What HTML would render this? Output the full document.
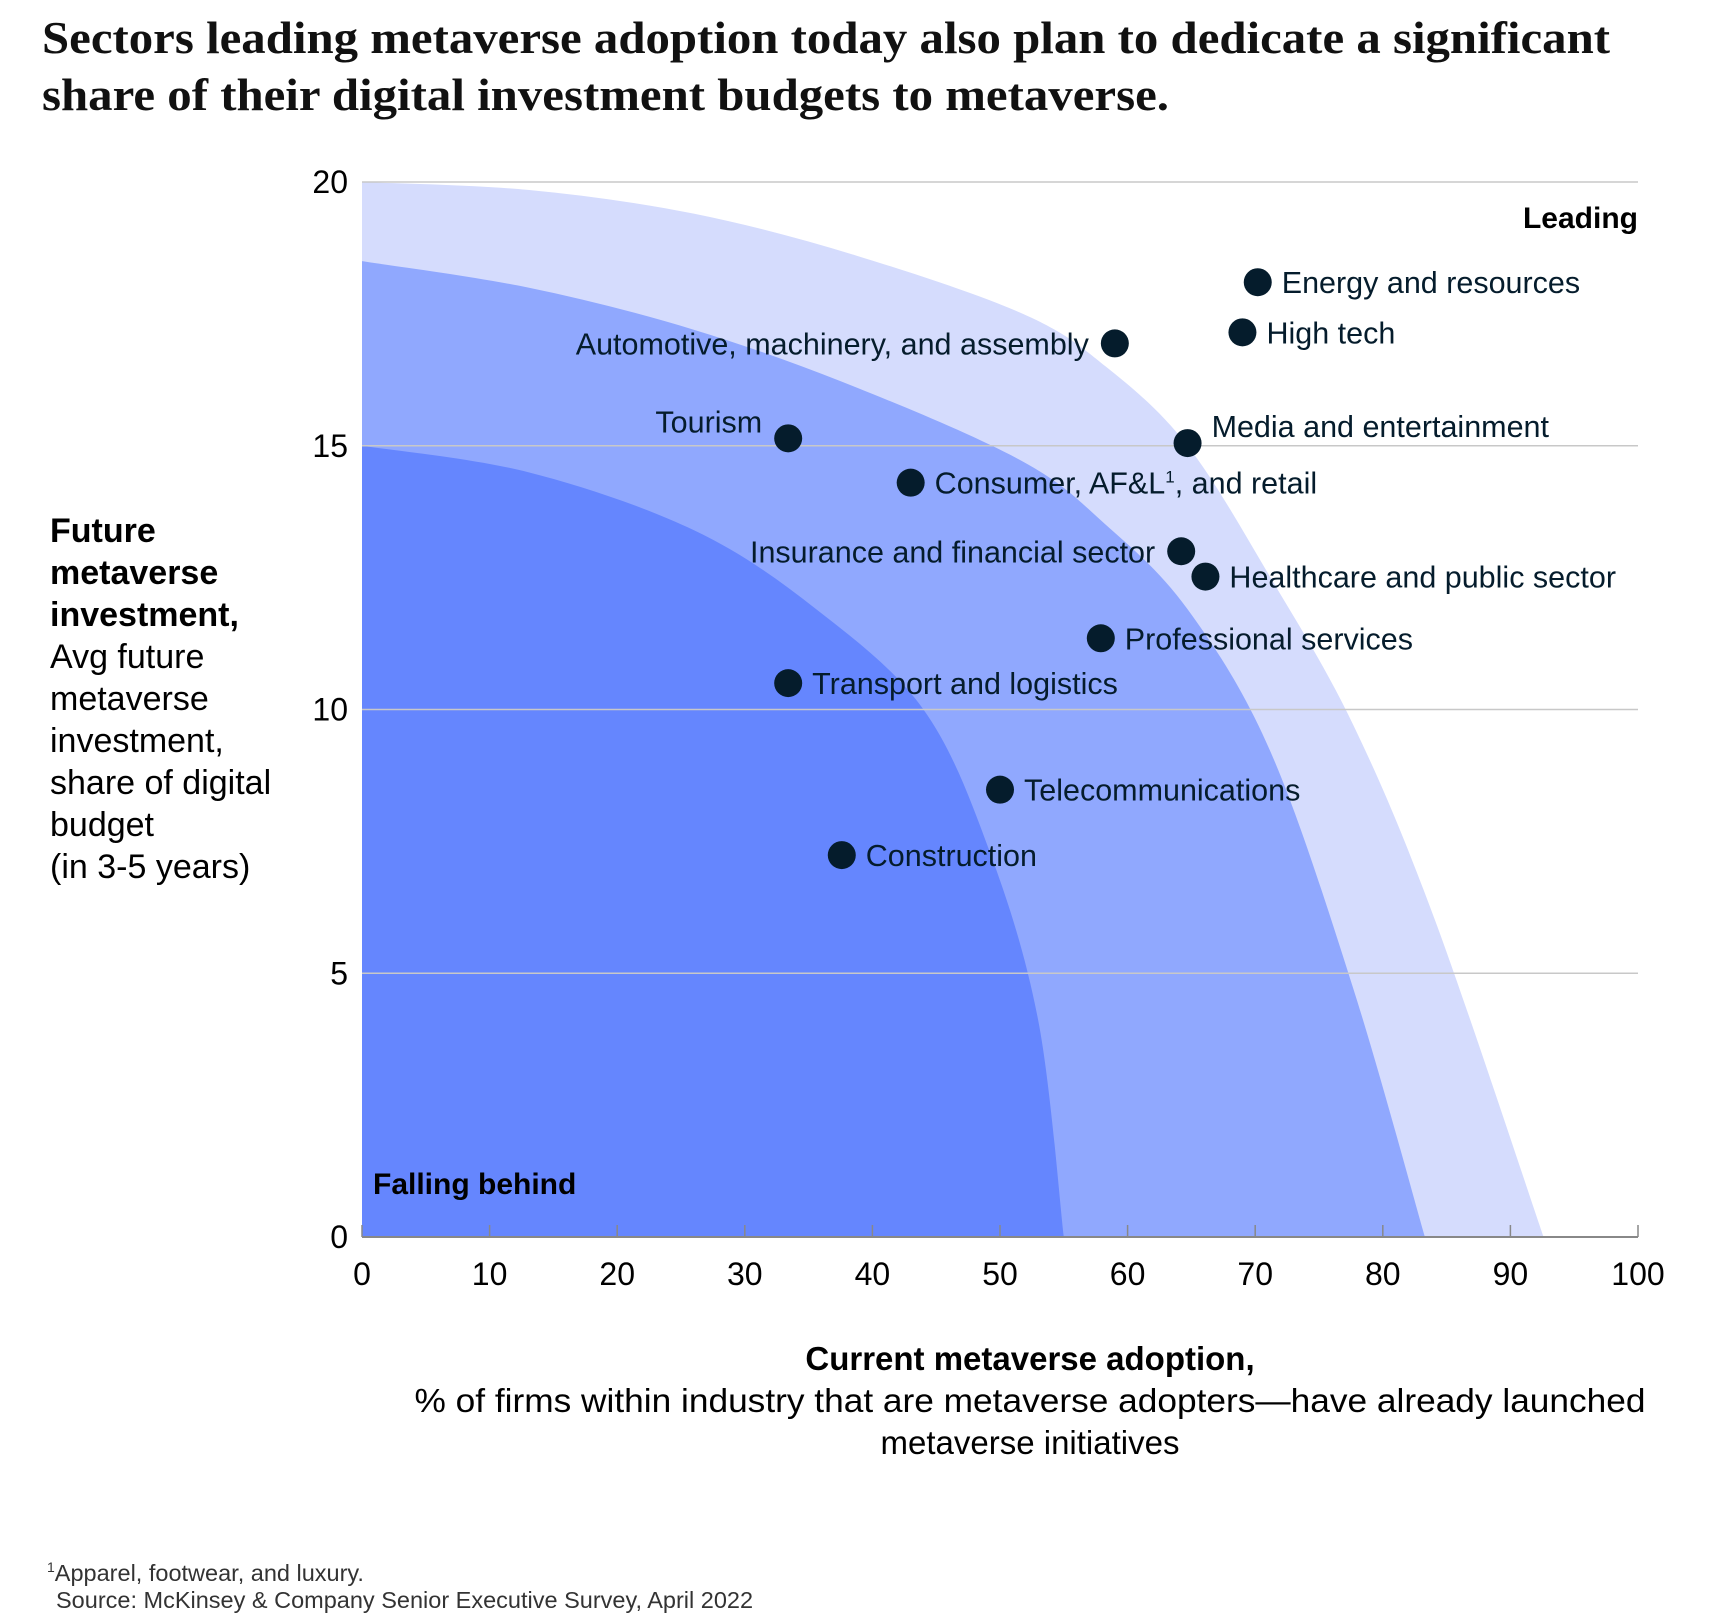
<!DOCTYPE html>
<html><head><meta charset="utf-8"><style>
html,body{margin:0;padding:0;background:#fff;}
svg{display:block;font-family:"Liberation Sans",sans-serif;}
</style></head><body>
<svg id="chart" width="1734" height="1620" viewBox="0 0 1734 1620" xmlns="http://www.w3.org/2000/svg">
<g font-family="Liberation Serif, serif" font-weight="bold" font-size="45" fill="#111">
<text x="42" y="53" textLength="1568" lengthAdjust="spacingAndGlyphs">Sectors leading metaverse adoption today also plan to dedicate a significant</text>
<text x="42" y="110" textLength="1127" lengthAdjust="spacingAndGlyphs">share of their digital investment budgets to metaverse.</text>
</g>
<g id="bands"></g>
<g id="grid"></g>
<g id="axes"></g>
<g id="points"></g>
<text x="1638" y="228" text-anchor="end" font-weight="bold" font-size="30" fill="#000">Leading</text>
<text x="373" y="1194" font-weight="bold" font-size="30" fill="#000">Falling behind</text>
<g font-size="34" fill="#000">
<text x="50" y="542" font-weight="bold">Future</text>
<text x="50" y="584" font-weight="bold">metaverse</text>
<text x="50" y="626" font-weight="bold">investment,</text>
<text x="50" y="668">Avg future</text>
<text x="50" y="710">metaverse</text>
<text x="50" y="752">investment,</text>
<text x="50" y="794">share of digital</text>
<text x="50" y="836">budget</text>
<text x="50" y="878">(in 3-5 years)</text>
</g>
<g font-size="33" fill="#000" text-anchor="middle">
<text x="1030" y="1370" font-weight="bold">Current metaverse adoption,</text>
<text x="1030" y="1412" textLength="1231" lengthAdjust="spacingAndGlyphs">% of firms within industry that are metaverse adopters—have already launched</text>
<text x="1030" y="1454">metaverse initiatives</text>
</g>
<g font-size="23.5" fill="#333">
<text x="47" y="1581"><tspan font-size="14" dy="-9">1</tspan><tspan dy="9">Apparel, footwear, and luxury.</tspan></text>
<text x="56" y="1608">Source: McKinsey &amp; Company Senior Executive Survey, April 2022</text>
</g>
</svg>
<script>
const sectors = ["Energy and resources","High tech","Automotive, machinery, and assembly","Media and entertainment","Tourism","Consumer, AF&L¹, and retail","Insurance and financial sector","Healthcare and public sector","Professional services","Transport and logistics","Telecommunications","Construction"];
const adoption = [70.2,69.0,59.0,64.7,33.4,43.0,64.2,66.1,57.9,33.4,50.0,37.6];
const investment = [18.1,17.15,16.94,15.05,15.14,14.3,13.0,12.52,11.35,10.5,8.48,7.24];
const labelSide = ["r","r","l","r","l","r","l","r","r","r","r","r"];
const xTicks = [0,10,20,30,40,50,60,70,80,90,100];
const yTicks = [0,5,10,15,20];
const outerX = [0,13,26,38.8,51.8,58.3,64.7,71.2,77.7,84.1,92.6];
const outerY = [20,19.85,19.4,18.6,17.5,16.5,15,12.5,9.7,6,0];
const middleX = [0,13,26,38.8,51.8,58.3,64.7,71.2,77.7,83.3];
const middleY = [18.5,18,17.2,16.1,14.7,13.5,11.9,9.2,4.7,0];
const innerX = [0,13,26,35.6,44,49.2,53,55];
const innerY = [15,14.5,13.4,11.9,10,7.3,4.1,0];

const X0=362, X1=1638, Y0=1237, Y1=182;
const sx = v => X0 + (X1-X0)*v/100;
const sy = v => Y0 - (Y0-Y1)*v/20;
const NS="http://www.w3.org/2000/svg";
function mk(tag, parent){ const e=document.createElementNS(NS,tag); parent.appendChild(e); return e; }

function bandPath(xs, ys){
  const p = xs.map((x,i)=>[sx(x), sy(ys[i])]);
  let d = `M${sx(0)},${sy(0)} L${p[0][0]},${p[0][1]}`;
  for(let i=0;i<p.length-1;i++){
    const a=p[Math.max(i-1,0)], b=p[i], c=p[i+1], e=p[Math.min(i+2,p.length-1)];
    const c1=[b[0]+(c[0]-a[0])/6, b[1]+(c[1]-a[1])/6];
    const c2=[c[0]-(e[0]-b[0])/6, c[1]-(e[1]-b[1])/6];
    d += ` C${c1[0]},${c1[1]} ${c2[0]},${c2[1]} ${c[0]},${c[1]}`;
  }
  return d+" Z";
}
const bands=document.getElementById('bands');
const b1=mk('path',bands); b1.setAttribute('d',bandPath(outerX,outerY)); b1.setAttribute('fill','#d5dcfd');


const b2=mk('path',bands); b2.setAttribute('d',bandPath(middleX,middleY)); b2.setAttribute('fill','#90a8fe');


const b3=mk('path',bands); b3.setAttribute('d',bandPath(innerX,innerY)); b3.setAttribute('fill','#6586fe');



const grid=document.getElementById('grid');
yTicks.forEach(t=>{
  if(t>0){
    const l=mk('line',grid); l.setAttribute('x1',X0); l.setAttribute('x2',X1); l.setAttribute('y1',sy(t)); l.setAttribute('y2',sy(t));
    l.setAttribute('stroke','#c8c8c8'); l.setAttribute('stroke-width','1.5');
    
    
  }
  const tx=mk('text',grid); tx.textContent=t; tx.setAttribute('x',348); tx.setAttribute('y',sy(t)+11);
  tx.setAttribute('text-anchor','end'); tx.setAttribute('font-size','32'); tx.setAttribute('fill','#000');
  
  
});
const axes=document.getElementById('axes');
const base=mk('line',axes); base.setAttribute('x1',X0); base.setAttribute('x2',X1); base.setAttribute('y1',Y0); base.setAttribute('y2',Y0);
base.setAttribute('stroke','#888'); base.setAttribute('stroke-width','2');


xTicks.forEach(t=>{
  const l=mk('line',axes); l.setAttribute('x1',sx(t)); l.setAttribute('x2',sx(t)); l.setAttribute('y1',Y0-12); l.setAttribute('y2',Y0);
  l.setAttribute('stroke','#888'); l.setAttribute('stroke-width','1.5');
  
  
  const tx=mk('text',axes); tx.textContent=t; tx.setAttribute('x',sx(t)); tx.setAttribute('y',1285);
  tx.setAttribute('text-anchor','middle'); tx.setAttribute('font-size','32'); tx.setAttribute('fill','#000');
  
  
});
const pts=document.getElementById('points');
sectors.forEach((s,i)=>{
  const cx=sx(adoption[i]), cy=sy(investment[i]);
  const c=mk('circle',pts); c.setAttribute('cx',cx); c.setAttribute('cy',cy); c.setAttribute('r',14); c.setAttribute('fill','#051c2c');
  
  
  const t=mk('text',pts);
  const right = labelSide[i]==='r';
  t.setAttribute('x', right? cx+24 : cx-26);
  t.setAttribute('y', (i===3||i===4)? cy-6 : cy+11);
  t.setAttribute('text-anchor', right?'start':'end');
  t.setAttribute('font-size','30.5'); t.setAttribute('fill','#051c2c');
  
  
  if(s.includes('¹')){
    const parts=s.split('¹');
    const a=mk('tspan',t); a.textContent=parts[0];
    const sup=mk('tspan',t); sup.textContent='1'; sup.setAttribute('font-size','17'); sup.setAttribute('dy','-11');
    const b=mk('tspan',t); b.textContent=parts[1]; b.setAttribute('dy','11');
  } else t.textContent=s;
});
</script>
</body></html>
